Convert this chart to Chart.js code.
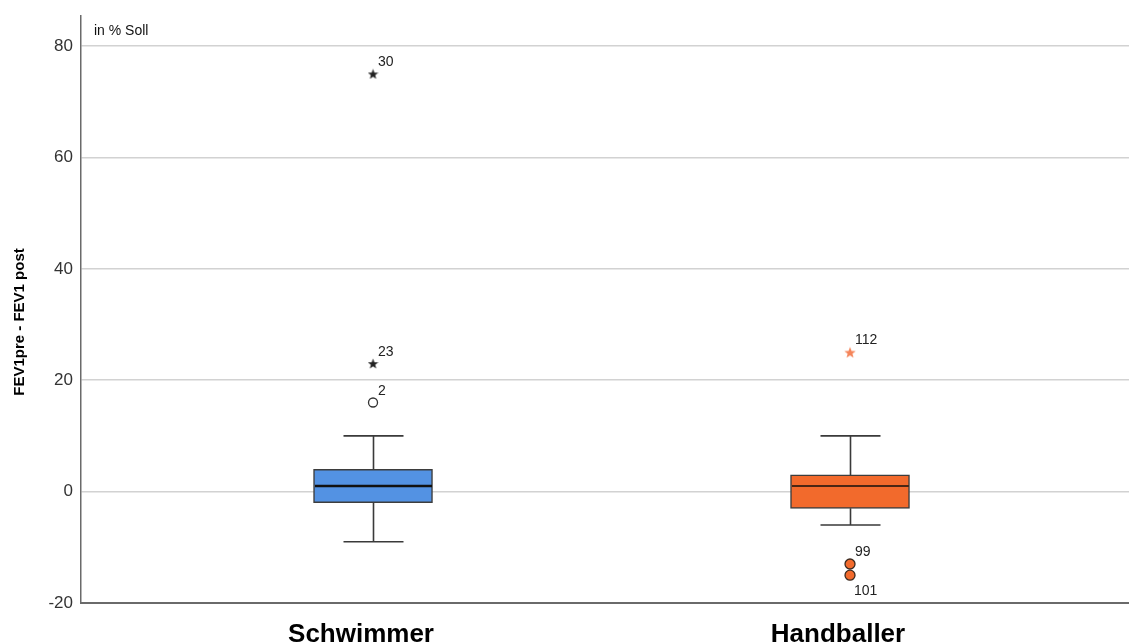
<!DOCTYPE html>
<html><head><meta charset="utf-8">
<script src="https://cdn.jsdelivr.net/npm/chart.js@4/dist/chart.umd.min.js"></script>
<style>html,body{margin:0;padding:0;background:#fff;overflow:hidden}#wrap{width:1129px;height:644px;position:relative}</style>
</head><body><div id="wrap"><canvas id="c" width="1129" height="644"></canvas></div>
<script>
const categories = ['Schwimmer', 'Handballer'];
const whiskerLow = [-9, -6];
const q1 = [-2, -3];
const median = [1, 1];
const q3 = [4, 3];
const whiskerHigh = [10, 10];
const outlierGroup = [0, 0, 0, 1, 1, 1];
const outlierValue = [75, 23, 16, 25, -13, -15];
const outlierLabel = ['30', '23', '2', '112', '99', '101'];
const outlierKind = ['extreme', 'extreme', 'mild', 'extreme', 'mild', 'mild'];
const yTicks = [-20, 0, 20, 40, 60, 80];
const yTitle = 'FEV1pre - FEV1 post';
const unitNote = 'in % Soll';

const boxFill = ['#5392E3', '#F26A2C'];
const medianColor = ['#111111', '#4a2614'];
const starColor = ['#222222', '#F5855A'];
const labelBelow = ['101'];

function makeStar(size, color) {
  const cv = document.createElement('canvas');
  cv.width = size; cv.height = size;
  const c = cv.getContext('2d');
  const cx = size / 2, cy = size / 2 + 0.5, R = size / 2, r = R * 0.42;
  c.beginPath();
  for (let k = 0; k < 10; k++) {
    const rad = k % 2 === 0 ? R : r;
    const a = -Math.PI / 2 + k * Math.PI / 5;
    const px = cx + rad * Math.cos(a), py = cy + rad * Math.sin(a);
    if (k === 0) c.moveTo(px, py); else c.lineTo(px, py);
  }
  c.closePath();
  c.fillStyle = color;
  c.fill();
  return cv;
}

const starImgs = [makeStar(11, starColor[0]), makeStar(12, starColor[1])];

function pts(g, kind) {
  const out = [];
  outlierValue.forEach((v, i) => {
    if (outlierGroup[i] === g && outlierKind[i] === kind) out.push({x: g, y: v});
  });
  return out;
}

const datasets = [
  {
    type: 'bar',
    data: categories.map((c, i) => ({x: i, y: [q1[i], q3[i]]})),
    backgroundColor: boxFill,
    borderColor: '#3d3d3d',
    borderWidth: 1.5,
    borderSkipped: false,
    barThickness: 119,
    order: 2
  },
  {type: 'scatter', data: pts(0, 'extreme'), pointStyle: starImgs[0], order: 1},
  {type: 'scatter', data: pts(0, 'mild'), pointStyle: 'circle', pointRadius: 4.5,
   backgroundColor: '#ffffff', borderColor: '#333333', borderWidth: 1.3, order: 1},
  {type: 'scatter', data: pts(1, 'extreme'), pointStyle: starImgs[1], order: 1},
  {type: 'scatter', data: pts(1, 'mild'), pointStyle: 'circle', pointRadius: 5,
   backgroundColor: boxFill[1], borderColor: '#3a2a20', borderWidth: 1.3, order: 1}
];

const boxPlugin = {
  id: 'boxExtras',
  afterDatasetsDraw(chart) {
    const {ctx} = chart;
    const x = chart.scales.x, y = chart.scales.y;
    ctx.save();
    categories.forEach((c, i) => {
      const cx = Math.round(x.getPixelForValue(i)) + 0.5;
      const cap = 30, half = 59.5;
      ctx.strokeStyle = '#3a3a3a';
      ctx.lineWidth = 1.6;
      const yHi = y.getPixelForValue(whiskerHigh[i]);
      const yQ3 = y.getPixelForValue(q3[i]);
      const yQ1 = y.getPixelForValue(q1[i]);
      const yLo = y.getPixelForValue(whiskerLow[i]);
      ctx.beginPath();
      ctx.moveTo(cx, yQ3); ctx.lineTo(cx, yHi);
      ctx.moveTo(cx - cap, yHi); ctx.lineTo(cx + cap, yHi);
      ctx.moveTo(cx, yQ1); ctx.lineTo(cx, yLo);
      ctx.moveTo(cx - cap, yLo); ctx.lineTo(cx + cap, yLo);
      ctx.stroke();
      ctx.strokeStyle = medianColor[i];
      ctx.lineWidth = i === 0 ? 2.6 : 2;
      const ym = y.getPixelForValue(median[i]);
      ctx.beginPath();
      ctx.moveTo(cx - half + 1, ym); ctx.lineTo(cx + half - 1, ym);
      ctx.stroke();
    });
    ctx.fillStyle = '#222';
    ctx.font = '14px "Liberation Sans", Arial, sans-serif';
    ctx.textAlign = 'left';
    ctx.textBaseline = 'alphabetic';
    outlierValue.forEach((v, i) => {
      const px = x.getPixelForValue(outlierGroup[i]);
      const py = y.getPixelForValue(v);
      if (labelBelow.includes(outlierLabel[i])) {
        ctx.fillText(outlierLabel[i], px + 4, py + 20);
      } else {
        ctx.fillText(outlierLabel[i], px + 5, py - 8);
      }
    });
    ctx.fillStyle = '#000';
    ctx.font = 'bold 26px "Liberation Sans", Arial, sans-serif';
    ctx.textAlign = 'center';
    categories.forEach((c, i) => {
      ctx.fillText(c, x.getPixelForValue(i) - 12, 642);
    });
    ctx.font = '14px "Liberation Sans", Arial, sans-serif';
    ctx.textAlign = 'left';
    ctx.fillStyle = '#111';
    ctx.fillText(unitNote, chart.chartArea.left + 13, 35);
    ctx.save();
    ctx.translate(24, 322);
    ctx.rotate(-Math.PI / 2);
    ctx.font = 'bold 15px "Liberation Sans", Arial, sans-serif';
    ctx.textAlign = 'center';
    ctx.fillStyle = '#000';
    ctx.fillText(yTitle, 0, 0);
    ctx.restore();
    ctx.restore();
  }
};

new Chart(document.getElementById('c'), {
  type: 'bar',
  data: {datasets},
  options: {
    responsive: false,
    devicePixelRatio: 1,
    animation: false,
    layout: {autoPadding: false, padding: {top: 16, left: 0, right: 0, bottom: 0}},
    plugins: {legend: {display: false}, tooltip: {enabled: false}},
    scales: {
      x: {
        type: 'linear',
        min: -0.6122,
        max: 1.5849,
        offset: false,
        grid: {display: false},
        border: {display: true, color: '#6a6a6a', width: 2},
        ticks: {display: false},
        afterBuildTicks(s) { s.ticks = categories.map((c, i) => ({value: i})); },
        afterFit(s) { s.height = 41; s.paddingLeft = 0; s.paddingRight = 0; }
      },
      y: {
        type: 'linear',
        min: -20,
        max: 85.4,
        grid: {color: '#d2d2d2', lineWidth: 1.5, drawTicks: false},
        border: {display: true, color: '#6a6a6a', width: 1.5},
        ticks: {
          padding: 8,
          color: '#333',
          font: {family: '"Liberation Sans", Arial, sans-serif', size: 17}
        },
        afterBuildTicks(s) { s.ticks = yTicks.map(v => ({value: v})); },
        afterFit(s) { s.width = 81; s.paddingTop = 0; s.paddingBottom = 0; }
      }
    }
  },
  plugins: [boxPlugin]
});
</script>
</body></html>
